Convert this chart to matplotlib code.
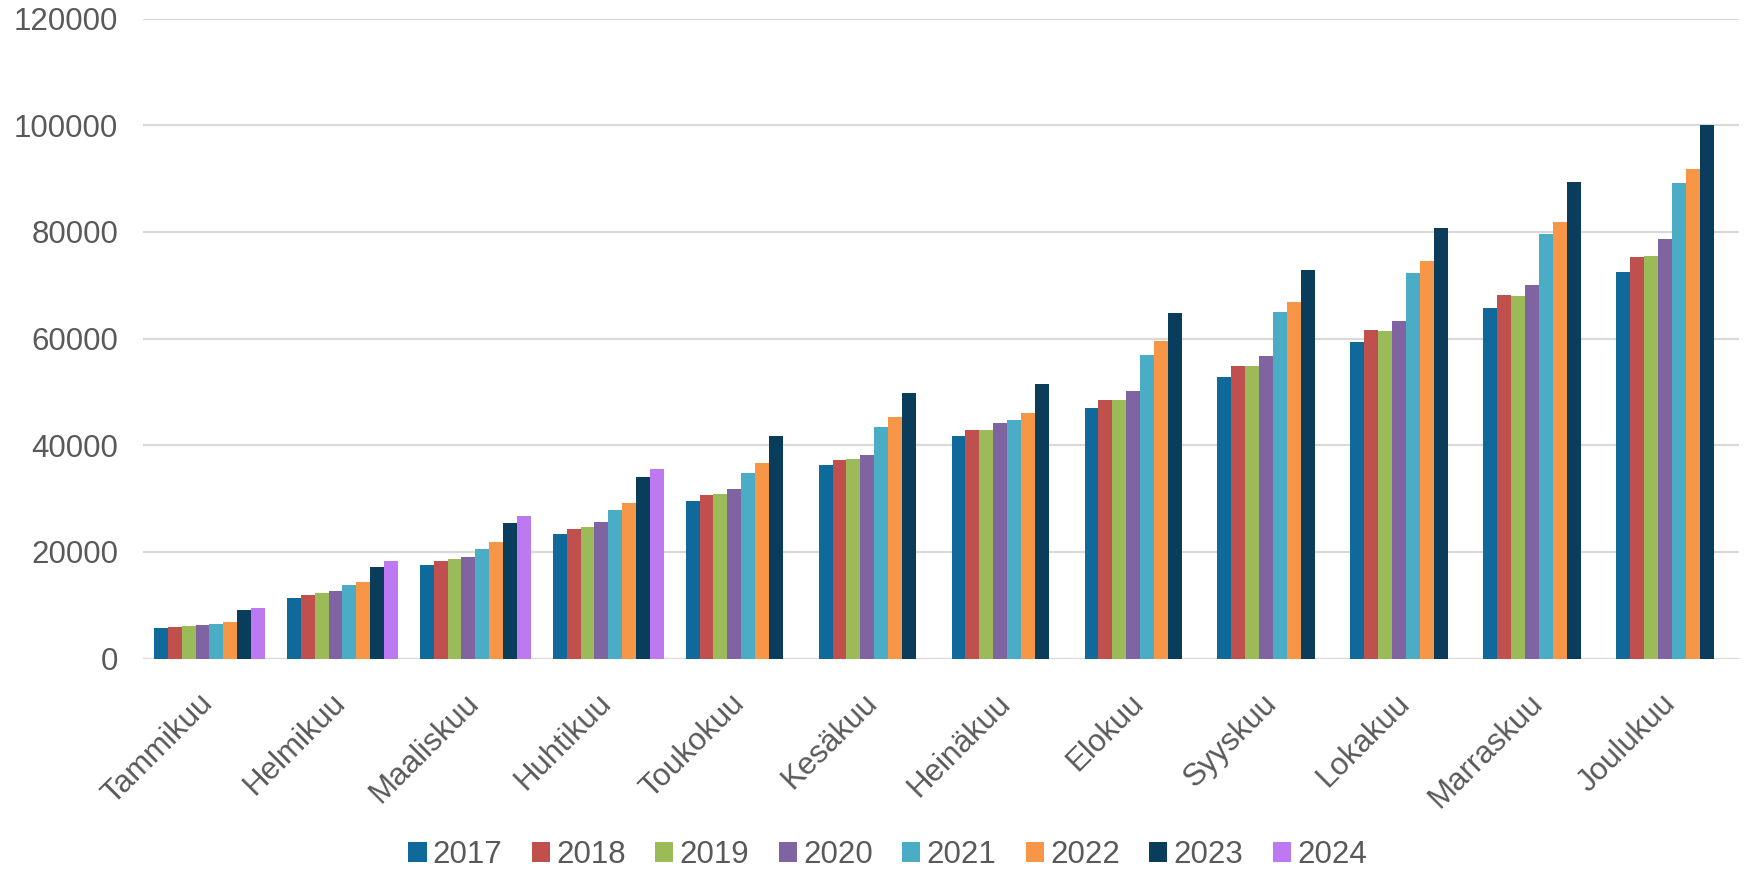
import numpy as np
import matplotlib
matplotlib.use("Agg")
from matplotlib import pyplot as plt
from matplotlib import transforms

# kuukaudet ja vuodet
months = ["Tammikuu", "Helmikuu", "Maaliskuu", "Huhtikuu", "Toukokuu", "Kesäkuu",
          "Heinäkuu", "Elokuu", "Syyskuu", "Lokakuu", "Marraskuu", "Joulukuu"]
years = ["2017", "2018", "2019", "2020", "2021", "2022", "2023", "2024"]

v2017 = [5700, 11300, 17600, 23400, 29600, 36300, 41700, 47000, 52800, 59400, 65800, 72500]
v2018 = [5900, 11900, 18200, 24300, 30700, 37200, 42900, 48500, 54900, 61600, 68200, 75300]
v2019 = [6100, 12300, 18600, 24700, 30900, 37400, 42900, 48500, 54900, 61400, 68000, 75500]
v2020 = [6300, 12700, 19100, 25600, 31800, 38100, 44200, 50200, 56800, 63300, 70100, 78700]
v2021 = [6500, 13800, 20600, 27900, 34800, 43500, 44800, 56900, 65000, 72300, 79600, 89200]
v2022 = [6900, 14400, 21900, 29200, 36700, 45300, 46100, 59600, 66900, 74600, 81800, 91800]
v2023 = [9100, 17200, 25400, 34100, 41800, 49800, 51500, 64800, 72900, 80700, 89300, 100000]
v2024 = [9500, 18300, 26700, 35600]

series = [v2017, v2018, v2019, v2020, v2021, v2022, v2023, v2024]
colors = ["#0F6A9B", "#C0504D", "#9BBB59", "#8064A2", "#4BACC6", "#F79646", "#0A3D5C", "#BC79F2"]

plt.rcParams['font.family'] = ['Liberation Sans', 'DejaVu Sans']
txt = "#595959"
fs = 22.5

fig = plt.figure(figsize=(17.44, 8.69), dpi=100)
ax = fig.add_axes([0.082, 0.2422, 0.915, 0.7363])

w = 0.105
x = np.arange(len(months))
for i, (vals, c, y) in enumerate(zip(series, colors, years)):
    ax.bar(x[:len(vals)] + (i - 3.5) * w, vals, width=w, color=c, label=y, zorder=3)

ax.set_xlim(-0.5, 11.5)
ax.set_ylim(0, 120000)
ax.set_yticks(range(0, 120001, 20000))
ax.grid(axis='y', color='#D9D9D9', linewidth=1.6, zorder=0)
for s in ax.spines.values():
    s.set_visible(False)
ax.tick_params(axis='y', length=0, pad=18, labelsize=fs, labelcolor=txt)
ax.tick_params(axis='x', length=0, pad=12, labelsize=fs, labelcolor=txt)
ax.set_xticks(x)
ax.set_xticklabels(months, rotation=45, ha='right', rotation_mode='anchor')
off = transforms.ScaledTranslation(-0.12, -0.13, fig.dpi_scale_trans)
for lab in ax.get_xticklabels():
    lab.set_transform(lab.get_transform() + off)

fig.legend(loc='center', bbox_to_anchor=(0.509, 0.016), ncol=8, frameon=False,
           fontsize=fs, labelcolor=txt, handlelength=0.58, handleheight=0.58,
           handletextpad=0.2, columnspacing=0.94, borderpad=0)

plt.savefig("out.png")
